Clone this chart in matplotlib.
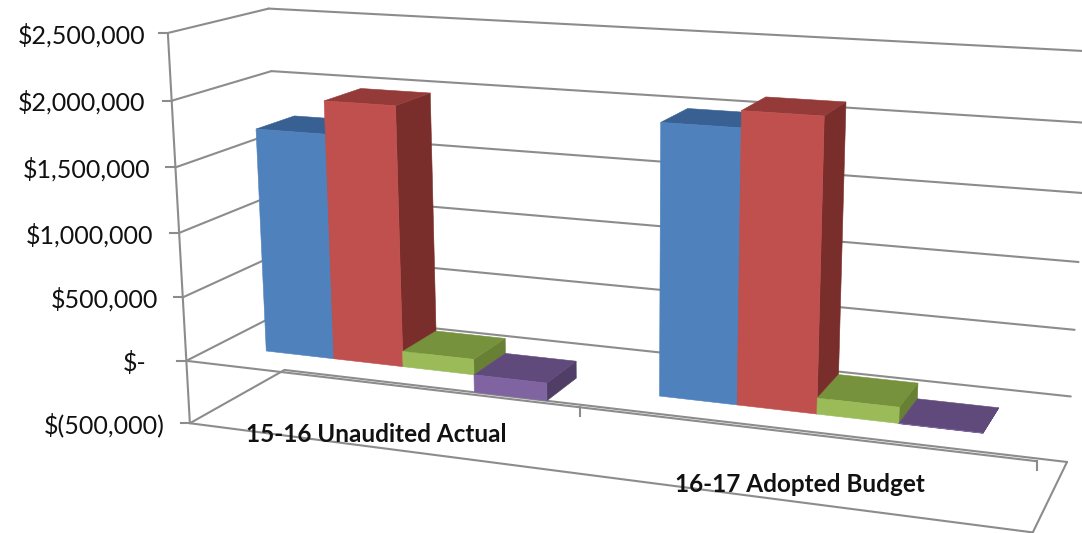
import numpy as np
import matplotlib
matplotlib.use("Agg")
import matplotlib.pyplot as plt
from matplotlib.patches import Polygon

plt.rcParams["font.family"] = ["Lato", "DejaVu Sans"]

categories = ["15-16 Unaudited Actual", "16-17 Adopted Budget"]
series_colors = ["blue", "red", "green", "purple"]
blue_values = [1.74, 2.00]
red_values = [1.99, 2.12]
green_values = [0.12, 0.118]
purple_values = [-0.135, -0.002]
tick_values = [2.5, 2.0, 1.5, 1.0, 0.5, 0.0, -0.5]
tick_labels = ["$2,500,000", "$2,000,000", "$1,500,000", "$1,000,000", "$500,000", "$-", "$(500,000)"]

# front, top and side shades of each series
FACE = {
    "blue": ("#4F81BD", "#386093", "#2F4D73"),
    "red": ("#C0504D", "#943B39", "#7A2E2C"),
    "green": ("#9BBB59", "#76923C", "#678034"),
    "purple": ("#8064A2", "#604A7B", "#503E66"),
}
GRID = "#8C8C8C"

# Perspective camera solved from known box corners:
# (category position 0-1, value in millions, depth 0-1) -> canvas pixel
anchors_world = [(0, 2.5, 0), (0, 2, 0), (0, 1.5, 0), (0, 0, 0), (0, -.5, 0), (0, 2.5, 1), (0, 2, 1), (0, -.5, 1),
                 (1, -.5, 1), (1, 0, 1), (1, .5, 1), (1, 1, 1), (1, 1.5, 1), (1, -.5, 0), (1, 0, 0), (.5, 0, 0)]
anchors_pixel = [(167, 33), (171, 101), (175, 168), (187, 361), (191, 423), (270, 8), (272, 71), (283, 370),
                 (1067, 462), (1071, 397), (1075, 330), (1078, 262), (1082, 193), (1033, 532), (1037, 461), (580, 407)]
rows = []
for (x, y, z), (u, v) in zip(anchors_world, anchors_pixel):
    rows.append([x, y, z, 1, 0, 0, 0, 0, -u * x, -u * y, -u * z, -u])
    rows.append([0, 0, 0, 0, x, y, z, 1, -v * x, -v * y, -v * z, -v])
CAMERA = np.linalg.svd(np.array(rows, float))[2][-1].reshape(3, 4)


def project(x, y, z):
    h = CAMERA @ np.array([x, y, z, 1.0])
    return h[:2] / h[2]


fig = plt.figure(figsize=(10.82, 5.33), dpi=100)
ax = fig.add_axes([0, 0, 1, 1])
ax.set_xlim(0, 1082)
ax.set_ylim(533, 0)
ax.axis("off")


def line3d(a, b, lw=1.5):
    p, q = project(*a), project(*b)
    ax.plot([p[0], q[0]], [p[1], q[1]], color=GRID, lw=lw, solid_capstyle="round", zorder=1)


# walls: value gridlines on the side and back planes
for v in tick_values:
    line3d((0, v, 0), (0, v, 1))
    line3d((0, v, 1), (1, v, 1))
    p = project(0, v, 0)
    ax.plot([p[0] - 9, p[0]], [p[1], p[1]], color=GRID, lw=1.5, zorder=1)

# value axis, floor outline and category axis
line3d((0, 2.5, 0), (0, -.5, 0))
line3d((0, -.5, 0), (1, -.5, 0))
line3d((1, -.5, 0), (1, -.5, 1))
line3d((0, 0, 0), (1, 0, 0))
for x in (0.5, 1.0):
    p = project(x, 0, 0)
    ax.plot([p[0], p[0]], [p[1], p[1] + 9], color=GRID, lw=1.5, zorder=1)

# bars: four series per category, 150% gap width and gap depth
GAP = 1.5
bar_w = 0.5 / (len(series_colors) + GAP)
z0, z1 = 0.3, 0.7
all_values = [blue_values, red_values, green_values, purple_values]


def face(pts, color, zo):
    ax.add_patch(Polygon([project(*p) for p in pts], closed=True, facecolor=color,
                         edgecolor=color, lw=0.4, zorder=zo))


zo = 2
for c in range(len(categories)):
    for s, name in enumerate(series_colors):
        val = all_values[s][c]
        x0 = c * 0.5 + bar_w * (GAP / 2 + s)
        x1 = x0 + bar_w
        lo, hi = min(0, val), max(0, val)
        front, top, side = FACE[name]
        face([(x1, lo, z0), (x1, hi, z0), (x1, hi, z1), (x1, lo, z1)], side, zo)
        face([(x0, hi, z0), (x1, hi, z0), (x1, hi, z1), (x0, hi, z1)], top, zo + 1)
        face([(x0, lo, z0), (x1, lo, z0), (x1, hi, z0), (x0, hi, z0)], front, zo + 2)
        zo += 3

# value axis labels
label_right = [145, 145, 150, 153, 158, 146, 165]
for v, text, right in zip(tick_values, tick_labels, label_right):
    ax.text(right, project(0, v, 0)[1] + 2, text, ha="right", va="center", fontsize=18, color="#111111", zorder=30)

# category labels
label_centres = [(376, 435), (800, 485)]
for text, (cx, cy) in zip(categories, label_centres):
    ax.text(cx, cy, text, ha="center", va="center", fontsize=17.5, fontweight="bold", color="#111111", zorder=30)

fig.savefig("out.png", dpi=100)
